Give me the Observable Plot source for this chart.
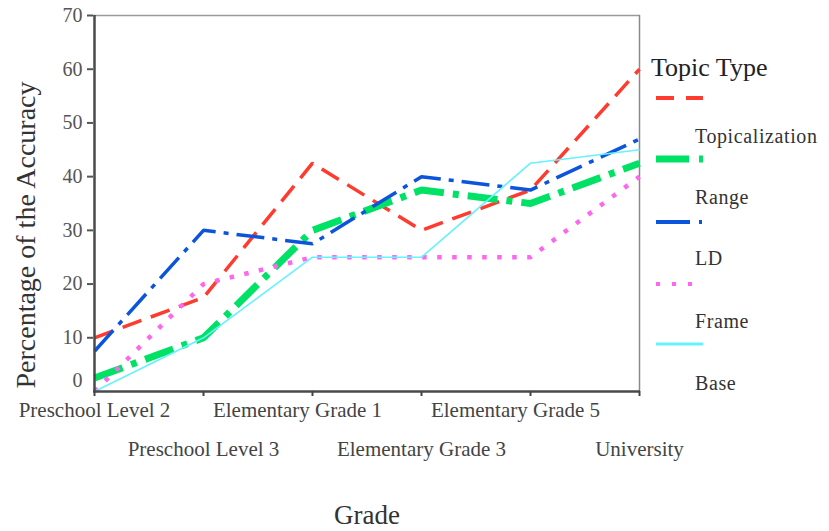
<!DOCTYPE html>
<html>
<head>
<meta charset="utf-8">
<script src="https://cdn.jsdelivr.net/npm/d3@7"></script>
<script src="https://cdn.jsdelivr.net/npm/@observablehq/plot@0.6"></script>
<style>
  html, body { margin: 0; padding: 0; background: #fff; }
  #chart svg { display: block; }
</style>
</head>
<body>
<div id="chart"></div>
<script>
// ---- data ----
const grades = ["Preschool Level 2", "Preschool Level 3", "Elementary Grade 1", "Elementary Grade 3", "Elementary Grade 5", "University"];
const seriesNames = ["Topicalization", "Range", "LD", "Frame", "Base"];
const topicalization = [10, 17.5, 42.5, 30, 37.5, 60];
const range = [2.5, 10, 30, 37.5, 35, 42.5];
const ld = [7.5, 30, 27.5, 40, 37.5, 47];
const frameVals = [0, 20, 25, 25, 25, 40];
const base = [0, 10, 25, 25, 42.5, 45];
const yTicks = [10, 20, 30, 40, 50, 60, 70];
const legendTitle = "Topic Type";
const xTitle = "Grade";
const yTitle = "Percentage of the Accuracy";

const seriesValues = [topicalization, range, ld, frameVals, base];
const styles = [
  {stroke: "#ff3b30", width: 3.5, dash: "20,10", cap: "butt"},
  {stroke: "#00e266", width: 7, dash: "30,9,6,9", cap: "butt"},
  {stroke: "#0a55dc", width: 3.5, dash: "28,8,5,8", cap: "butt"},
  {stroke: "#ff66f0", width: 4.5, dash: "4.5,10.5", cap: "butt"},
  {stroke: "#66f2ff", width: 1.6, dash: null, cap: "butt"}
];

const rows = seriesNames.map((s, i) => grades.map((g, j) => ({series: s, grade: g, value: seriesValues[i][j]})));

const font = "'Liberation Serif', 'DejaVu Serif', serif";

const lineMarks = rows.map((data, i) => Plot.line(data, {
  x: "grade", y: "value",
  stroke: styles[i].stroke,
  strokeWidth: styles[i].width,
  strokeDasharray: styles[i].dash,
  strokeLinecap: styles[i].cap,
  strokeLinejoin: "miter"
}));

const firstCat = [grades[0]];
const midTopCats = [grades[2], grades[4]];
const oddCats = grades.filter((d, i) => i % 2 === 1);

const chart = Plot.plot({
  width: 829,
  height: 531,
  marginLeft: 93,
  marginRight: 189,
  marginTop: 15,
  marginBottom: 140,
  style: {fontFamily: font, background: "#fff"},
  x: {type: "point", domain: grades, padding: 0},
  y: {domain: [0, 70]},
  marks: [
    Plot.ruleY([70], {stroke: "#9a9a9a", strokeWidth: 1.5}),
    Plot.ruleX([grades[grades.length - 1]], {stroke: "#8a8a8a", strokeWidth: 1.5}),
    ...lineMarks,
    Plot.ruleY([0], {stroke: "#4a4a4a", strokeWidth: 2.5}),
    Plot.ruleX([grades[0]], {stroke: "#4a4a4a", strokeWidth: 2.5}),
    Plot.axisY(yTicks, {tickSize: 6, tickPadding: 5, fontSize: 20, color: "#555", label: null, strokeWidth: 2}),
    Plot.axisY([0], {tickSize: 0, tickPadding: 11, fontSize: 20, color: "#555", label: null, dy: -11}),
    Plot.axisX(firstCat, {tickSize: 5, tickPadding: 6, fontSize: 21, color: "#444", label: null, strokeWidth: 2}),
    Plot.axisX(midTopCats, {tickSize: 0, tickPadding: 11, fontSize: 21, color: "#444", label: null, dx: -15}),
    Plot.axisX(midTopCats, {tickSize: 5, fontSize: 0, color: "#444", label: null, strokeWidth: 2, tickFormat: () => ""}),
    Plot.axisX(oddCats, {tickSize: 5, tickPadding: 45, fontSize: 21, color: "#444", label: null, strokeWidth: 2})
  ]
});

document.getElementById("chart").appendChild(chart);

// titles and legend
const svg = d3.select(chart);
svg.append("text")
  .attr("transform", "translate(35,235) rotate(-90)")
  .attr("text-anchor", "middle")
  .attr("font-family", font)
  .attr("font-size", 28)
  .attr("fill", "#333")
  .text(yTitle);

svg.append("text")
  .attr("x", 367).attr("y", 524)
  .attr("text-anchor", "middle")
  .attr("font-family", font)
  .attr("font-size", 27)
  .attr("fill", "#333")
  .text(xTitle);

const lg = svg.append("g").attr("text-anchor", "start");
lg.append("text")
  .attr("x", 651).attr("y", 76)
  .attr("text-anchor", "start")
  .attr("font-family", font)
  .attr("font-size", 26)
  .attr("fill", "#222")
  .text(legendTitle);

const swatchY = [98, 159, 222, 284, 344];
const labelY = [143, 204, 265, 328, 390];
const legendDash = ["18,12", "33,10,4,10", "34,9,3,9", "4,12", null];
seriesNames.forEach((name, i) => {
  lg.append("line")
    .attr("x1", 656).attr("x2", 703)
    .attr("y1", swatchY[i]).attr("y2", swatchY[i])
    .attr("stroke", styles[i].stroke)
    .attr("stroke-width", i === 1 ? 7 : (i === 4 ? 3 : 4))
    .attr("stroke-dasharray", legendDash[i]);
  lg.append("text")
    .attr("x", 695).attr("y", labelY[i])
    .attr("text-anchor", "start")
    .attr("font-family", font)
    .attr("font-size", 20)
    .attr("letter-spacing", "0.6px")
    .attr("fill", "#333")
    .text(name);
});
</script>
</body>
</html>
